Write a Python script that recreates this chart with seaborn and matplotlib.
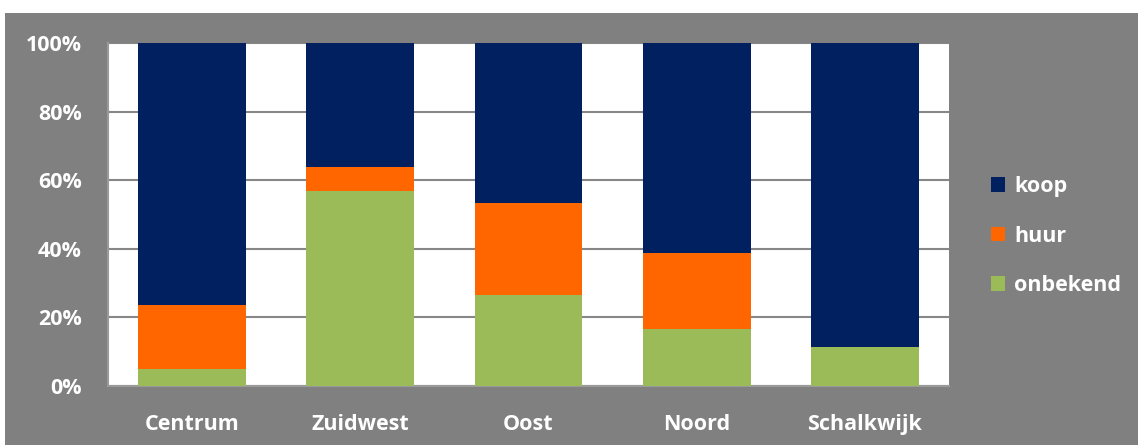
import matplotlib
matplotlib.use("Agg")
import matplotlib.pyplot as plt
from matplotlib.patches import Rectangle, Patch
from matplotlib.ticker import PercentFormatter
import numpy as np
import pandas as pd
import seaborn as sns

# Share of dwellings per district by tenure (percent)
districts = ["Centrum", "Zuidwest", "Oost", "Noord", "Schalkwijk"]
onbekend = [5.1, 56.9, 26.6, 16.7, 11.5]
huur = [18.5, 7.0, 26.8, 22.2, 0.0]
koop = [76.4, 36.1, 46.6, 61.1, 88.5]

series_names = ["koop", "huur", "onbekend"]
colors = {"koop": "#002060", "huur": "#FF6600", "onbekend": "#9BBB59"}
bg_grey = "#808080"

df = pd.DataFrame({"district": districts, "onbekend": onbekend,
                   "huur": huur, "koop": koop})
# cumulative tops of each stacked segment (bottom segment first)
df["top_onbekend"] = df["onbekend"]
df["top_huur"] = df["onbekend"] + df["huur"]
df["top_koop"] = df["top_huur"] + df["koop"]

sns.set_theme(style="white")
plt.rcParams["font.family"] = ["Open Sans", "DejaVu Sans"]
FS = 15.5

fig = plt.figure(figsize=(11.38, 4.45), dpi=100, facecolor="white")
fig.patches.append(Rectangle((5 / 1138, 0), 1, (445 - 13) / 445,
                             transform=fig.transFigure, facecolor=bg_grey,
                             edgecolor="none", zorder=-5))
ax = fig.add_axes([108 / 1138, 1 - 386 / 445, (949 - 108) / 1138, (386 - 43) / 445])
ax.set_facecolor("white")

# draw tallest cumulative layer first so lower segments sit on top
for name in ["koop", "huur", "onbekend"]:
    sns.barplot(data=df, x="district", y=f"top_{name}", order=districts,
                color=colors[name], saturation=1, width=0.64, ax=ax,
                edgecolor="none", linewidth=0, zorder=3)

ax.set_ylim(0, 100)
ax.set_yticks(np.arange(0, 101, 20))
ax.yaxis.set_major_formatter(PercentFormatter(decimals=0))
ax.grid(axis="y", color="#878787", linewidth=1.5, zorder=0)
ax.set_axisbelow(True)
ax.set_xlabel("")
ax.set_ylabel("")

for side in ["top", "right"]:
    ax.spines[side].set_visible(False)
for side in ["left", "bottom"]:
    ax.spines[side].set_color("#9a9a9a")
    ax.spines[side].set_linewidth(1.5)

ax.tick_params(axis="both", length=0, colors="white", labelsize=FS)
ax.tick_params(axis="y", pad=19)
ax.tick_params(axis="x", pad=20)
for lbl in ax.get_xticklabels() + ax.get_yticklabels():
    lbl.set_fontweight("bold")
    lbl.set_color("white")

handles = [Patch(facecolor=colors[n], edgecolor="none") for n in series_names]
leg = fig.legend(handles, series_names, loc="center left",
                 bbox_to_anchor=(991 / 1138, 1 - 236 / 445),
                 frameon=False, borderpad=0, borderaxespad=0,
                 handlelength=0.65, handleheight=0.65,
                 handletextpad=0.42, labelspacing=1.32,
                 prop={"weight": "bold", "size": FS})
for t in leg.get_texts():
    t.set_color("white")

fig.savefig("out.png", dpi=100, facecolor=fig.get_facecolor())
